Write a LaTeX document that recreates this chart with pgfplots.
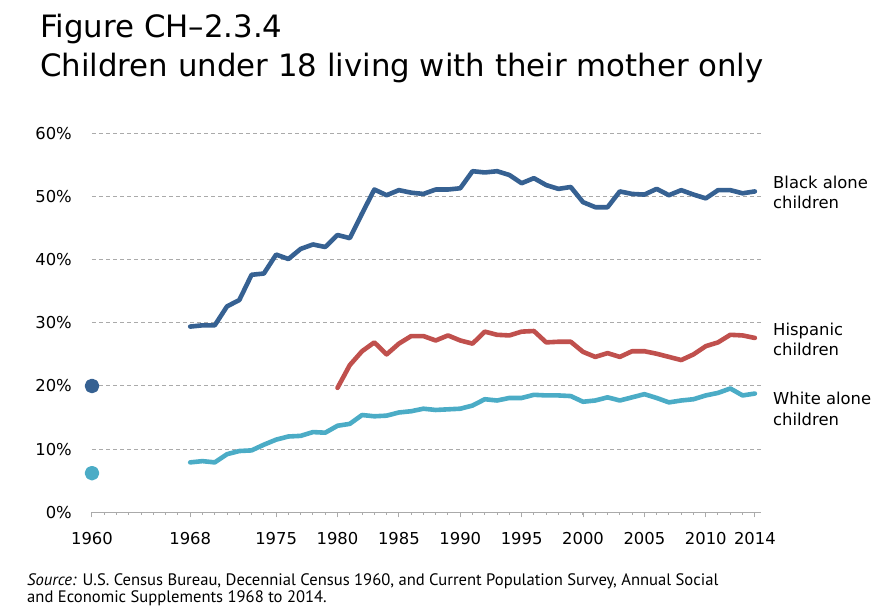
\documentclass[border=0pt]{standalone}
\usepackage{fontspec}
\setmainfont{DejaVu Sans}
\newfontfamily\srcfont{PT Sans}
\usepackage{pgfplots}
\pgfplotsset{compat=1.18}
\definecolor{blk}{RGB}{54,97,146}
\definecolor{hsp}{RGB}{192,80,77}
\definecolor{wht}{RGB}{75,172,198}
\definecolor{gridc}{RGB}{170,170,170}

\begin{document}
\begin{tikzpicture}
\useasboundingbox (0,0) rectangle (883pt,609pt);
\begin{axis}[
  at={(92pt,96.7pt)}, anchor=south west,
  scale only axis, width=669pt, height=379pt,
  xmin=1960, xmax=2014.5, ymin=0, ymax=60,
  clip=false,
  axis x line=bottom, axis y line=left,
  x axis line style={-, gridc, line width=1pt},
  y axis line style={draw=none},
  xtick={1960,1968,1975,1980,1985,1990,1995,2000,2005,2010,2014},
  minor xtick={1961,...,2013},
  ytick={0,10,...,60},
  tick align=outside,
  major tick length=5pt, minor tick length=2.5pt,
  xtick style={gridc, line width=1pt},
  ytick style={draw=none},
  ymajorgrids,
  grid style={gridc, line width=1pt, dash pattern=on 4pt off 3pt},
  tick label style={font=\fontsize{16.4}{19}\selectfont},
  /pgf/number format/assume math mode=true,
  /pgf/number format/1000 sep={},
  yticklabel={\pgfmathprintnumber{\tick}\%},
  xticklabel style={anchor=base, inner sep=0pt, yshift=-27pt},
  yticklabel style={anchor=east, inner sep=0pt, xshift=-15pt},
  every axis plot/.append style={line width=4.6pt, line cap=round, line join=round},
]
% Black alone children
\addplot[blk] coordinates {
(1968,29.4)(1969,29.6)(1970,29.6)(1971,32.6)(1972,33.6)(1973,37.6)(1974,37.8)
(1975,40.8)(1976,40.1)(1977,41.7)(1978,42.4)(1979,42.0)(1980,43.9)(1981,43.4)
(1982,47.3)(1983,51.1)(1984,50.2)(1985,51.0)(1986,50.6)(1987,50.4)(1988,51.1)
(1989,51.1)(1990,51.3)(1991,54.0)(1992,53.8)(1993,54.0)(1994,53.4)(1995,52.1)
(1996,52.9)(1997,51.8)(1998,51.2)(1999,51.5)(2000,49.1)(2001,48.3)(2002,48.3)
(2003,50.8)(2004,50.4)(2005,50.3)(2006,51.2)(2007,50.2)(2008,51.0)(2009,50.3)
(2010,49.7)(2011,51.0)(2012,51.0)(2013,50.5)(2014,50.8)
};
% Hispanic children
\addplot[hsp] coordinates {
(1980,19.7)(1981,23.3)(1982,25.5)(1983,26.9)(1984,25.0)(1985,26.7)(1986,27.9)
(1987,27.9)(1988,27.2)(1989,28.0)(1990,27.2)(1991,26.7)(1992,28.6)(1993,28.1)
(1994,28.0)(1995,28.6)(1996,28.7)(1997,26.9)(1998,27.0)(1999,27.0)(2000,25.4)
(2001,24.6)(2002,25.2)(2003,24.6)(2004,25.5)(2005,25.5)(2006,25.1)(2007,24.6)
(2008,24.1)(2009,25.0)(2010,26.3)(2011,26.9)(2012,28.1)(2013,28.0)(2014,27.6)
};
% White alone children
\addplot[wht] coordinates {
(1968,7.9)(1969,8.1)(1970,7.9)(1971,9.2)(1972,9.7)(1973,9.8)(1974,10.7)
(1975,11.5)(1976,12.0)(1977,12.1)(1978,12.7)(1979,12.6)(1980,13.7)(1981,14.0)
(1982,15.4)(1983,15.2)(1984,15.3)(1985,15.8)(1986,16.0)(1987,16.4)(1988,16.2)
(1989,16.3)(1990,16.4)(1991,16.9)(1992,17.9)(1993,17.7)(1994,18.1)(1995,18.1)
(1996,18.6)(1997,18.5)(1998,18.5)(1999,18.4)(2000,17.5)(2001,17.7)(2002,18.2)
(2003,17.7)(2004,18.2)(2005,18.7)(2006,18.1)(2007,17.4)(2008,17.7)(2009,17.9)
(2010,18.5)(2011,18.9)(2012,19.6)(2013,18.5)(2014,18.8)
};
% 1960 census points
\addplot[only marks, mark=*, mark size=5pt, blk, mark options={draw=none, fill=blk}] coordinates {(1960,20.0)};
\addplot[only marks, mark=*, mark size=5pt, wht, mark options={draw=none, fill=wht}] coordinates {(1960,6.2)};
\end{axis}

\begin{scope}[every node/.style={anchor=base west, inner sep=0pt, font=\fontsize{16.4}{19}\selectfont}]
\node at (773pt,420.7pt) {Black alone};
\node at (773pt,400pt) {children};
\node at (773pt,273pt) {Hispanic};
\node at (773pt,253pt) {children};
\node at (773pt,204pt) {White alone};
\node at (773pt,183.3pt) {children};
\end{scope}

\node[anchor=base west, inner sep=0pt, font=\fontsize{30.8}{36}\selectfont] at (40pt,571.7pt) {Figure CH–2.3.4};
\node[anchor=base west, inner sep=0pt, font=\fontsize{30.8}{36}\selectfont] at (40pt,532.3pt) {Children under 18 living with their mother only};

\node[anchor=base west, inner sep=0pt, font=\srcfont\fontsize{16.6}{19}\selectfont] at (27pt,23pt) {\textit{Source:} U.S. Census Bureau, Decennial Census 1960, and Current Population Survey, Annual Social};
\node[anchor=base west, inner sep=0pt, font=\srcfont\fontsize{16.6}{19}\selectfont] at (27pt,6pt) {and Economic Supplements 1968 to 2014.};
\end{tikzpicture}
\end{document}
